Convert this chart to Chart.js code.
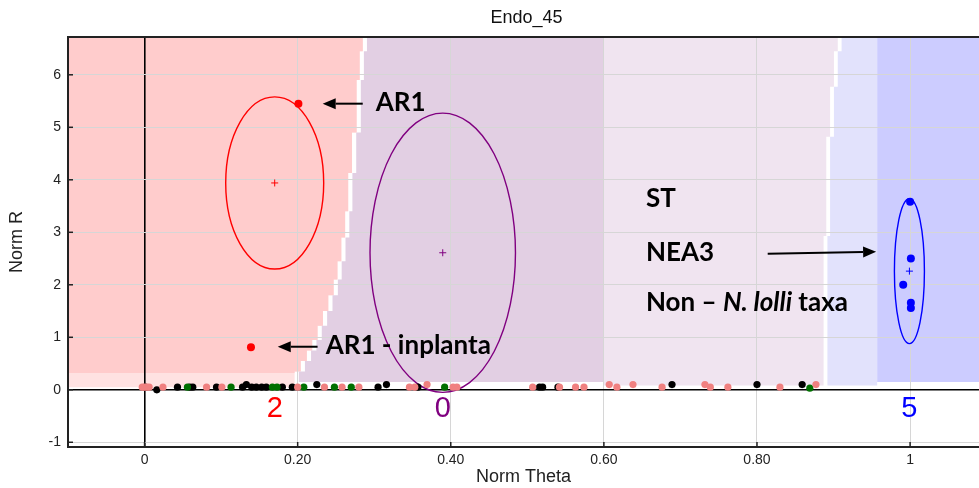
<!DOCTYPE html>
<html>
<head>
<meta charset="utf-8">
<title>Endo_45</title>
<script src="https://cdn.jsdelivr.net/npm/chart.js@4.4.1/dist/chart.umd.min.js"></script>
<style>
  html, body { margin: 0; padding: 0; background: #fff; }
  #wrap { width: 979px; height: 488px; }
</style>
</head>
<body>
<div id="wrap"><canvas id="endoChart" width="979" height="488"></canvas></div>
<script>
// ---- data ----
const xTicks = [0, 0.2, 0.4, 0.6, 0.8, 1];
const xTickLabels = ['0', '0.20', '0.40', '0.60', '0.80', '1'];
const yTicks = [-1, 0, 1, 2, 3, 4, 5, 6];

// samples sitting on the theta axis
const blackTheta = [0.001, 0.016, 0.043, 0.059, 0.063, 0.094, 0.128, 0.133, 0.140, 0.146, 0.153, 0.159, 0.180, 0.193, 0.225, 0.305, 0.316, 0.357, 0.516, 0.520, 0.540, 0.689, 0.800, 0.859];
const blackR     = [0.05, 0.00, 0.05, 0.05, 0.05, 0.05, 0.05, 0.10, 0.05, 0.05, 0.05, 0.05, 0.05, 0.05, 0.10, 0.05, 0.10, 0.05, 0.05, 0.05, 0.05, 0.10, 0.10, 0.10];
const coralTheta = [-0.003, 0.000, 0.003, 0.006, 0.024, 0.081, 0.101, 0.200, 0.235, 0.258, 0.280, 0.346, 0.353, 0.369, 0.403, 0.408, 0.507, 0.542, 0.563, 0.574, 0.607, 0.617, 0.638, 0.676, 0.732, 0.739, 0.762, 0.830, 0.877];
const coralR     = [0.05, 0.05, 0.05, 0.05, 0.05, 0.05, 0.05, 0.05, 0.05, 0.05, 0.05, 0.05, 0.05, 0.10, 0.05, 0.05, 0.05, 0.05, 0.05, 0.05, 0.10, 0.05, 0.10, 0.05, 0.10, 0.05, 0.05, 0.05, 0.10];
const greenTheta = [0.056, 0.113, 0.167, 0.173, 0.208, 0.248, 0.270, 0.392, 0.869];
const greenR     = [0.05, 0.05, 0.05, 0.05, 0.05, 0.05, 0.05, 0.05, 0.03];

// cluster members
const redTheta  = [0.201, 0.139];
const redR      = [5.45, 0.81];
const blueTheta = [1.000, 1.001, 0.991, 1.001, 1.001];
const blueR     = [3.58, 2.50, 2.00, 1.66, 1.56];

// cluster ellipses (centre and half axes)
const clusterIds       = ['2', '0', '5'];
const ellipseTheta     = [0.170, 0.3895, 0.9991];
const ellipseR         = [3.94, 2.61, 2.26];
const ellipseHalfTheta = [0.064, 0.0950, 0.0196];
const ellipseHalfR     = [1.64, 2.66, 1.38];
const clusterLabelR    = -0.36;

// decision regions: [theta, R from here down]
const leftBoundary  = [[0.288, 6.72], [0.284, 6.45], [0.280, 5.90], [0.274, 4.90], [0.269, 4.13], [0.265, 3.40], [0.260, 2.90], [0.255, 2.45], [0.250, 2.10], [0.243, 1.80], [0.236, 1.50], [0.229, 1.22], [0.222, 0.95], [0.215, 0.75], [0.207, 0.55], [0.199, 0.35]];
const rightBoundary = [[0.908, 6.72], [0.903, 6.45], [0.898, 5.77], [0.893, 4.82], [0.8895, 2.93]];
const purpleEnd = 0.600;
const blueStart = 0.957;

// annotations
const noteText  = ['AR1', 'AR1 - inplanta', 'ST', 'NEA3', 'Non – N. lolli taxa'];
const noteTheta = [0.302, 0.2366, 0.655, 0.655, 0.655];
const noteR     = [5.47, 0.84, 3.64, 2.61, 1.66];
const arrowFrom = [[0.285, 5.45], [0.226, 0.82], [0.814, 2.59]];
const arrowTo   = [[0.2327, 5.45], [0.174, 0.82], [0.9556, 2.63]];

const X_MIN = -0.1, X_MAX = 1.09, Y_MIN = -1.09, Y_MAX = 6.72;

// ---- helpers ----
const toPts = (xs, ys) => xs.map((x, i) => ({ x: x, y: ys[i] }));

function stairs(bound, shift, yBottom) {
    // staircase outline from top to bottom
    const pts = [];
    bound.forEach((b, i) => {
        const yTop = b[1];
        const yLow = i < bound.length - 1 ? bound[i + 1][1] : yBottom;
        pts.push([b[0] + shift, yTop]);
        pts.push([b[0] + shift, yLow]);
    });
    return pts;
}

const regionsPlugin = {
    id: 'regions',
    beforeDraw(chart) {
        const { ctx, chartArea } = chart;
        const sx = chart.scales.x, sy = chart.scales.y;
        const P = p => [sx.getPixelForValue(p[0]), sy.getPixelForValue(p[1])];
        const poly = (pts, color) => {
            ctx.beginPath();
            pts.forEach((p, i) => {
                const q = P(p);
                if (i === 0) ctx.moveTo(q[0], q[1]); else ctx.lineTo(q[0], q[1]);
            });
            ctx.closePath();
            ctx.fillStyle = color;
            ctx.fill();
        };
        ctx.save();
        ctx.fillStyle = '#fff';
        ctx.fillRect(chartArea.left, chartArea.top, chartArea.width, chartArea.height);
        ctx.beginPath();
        ctx.rect(chartArea.left, chartArea.top, chartArea.width, chartArea.height);
        ctx.clip();

        // pink (cluster 2)
        const pinkEdge = stairs(leftBoundary, -0.003, 0.05);
        poly([[X_MIN, 0.05]].concat([[X_MIN, Y_MAX]], pinkEdge), '#ffe2e2');
        poly([[X_MIN, 0.32], [X_MIN, Y_MAX]].concat(pinkEdge.filter(p => p[1] >= 0.32), [[0.196, 0.32]]), '#ffcccc');

        // purple (cluster 0)
        const purpleEdge = stairs(leftBoundary, 0.0025, 0.15);
        poly(purpleEdge.concat([[purpleEnd, 0.15], [purpleEnd, Y_MAX]]), '#e2cfe3');

        // lilac
        const lilacEdge = stairs(rightBoundary, -0.0025, 0.08);
        poly([[purpleEnd, Y_MAX]].concat(lilacEdge, [[purpleEnd, 0.08]]), '#f0e4f0');

        // light blue, blue (cluster 5)
        const lbEdge = stairs(rightBoundary, 0.0025, 0.08);
        poly(lbEdge.concat([[blueStart, 0.08], [blueStart, Y_MAX]]), '#e2e2fc');
        poly([[blueStart, Y_MAX], [blueStart, 0.15], [X_MAX, 0.15], [X_MAX, Y_MAX]], '#ccccff');
        ctx.restore();
    },
    beforeDatasetsDraw(chart) {
        const { ctx, chartArea } = chart;
        const sx = chart.scales.x, sy = chart.scales.y;
        const colors = ['#ff0000', '#800080', '#0000ff'];
        ctx.save();
        ctx.beginPath();
        ctx.rect(chartArea.left, chartArea.top, chartArea.width, chartArea.height);
        ctx.clip();
        ellipseTheta.forEach((t, i) => {
            const cx = sx.getPixelForValue(t);
            const cy = sy.getPixelForValue(ellipseR[i]);
            const rx = Math.abs(sx.getPixelForValue(t + ellipseHalfTheta[i]) - cx);
            const ry = Math.abs(sy.getPixelForValue(ellipseR[i] + ellipseHalfR[i]) - cy);
            ctx.beginPath();
            ctx.ellipse(cx, cy, rx, ry, 0, 0, Math.PI * 2);
            ctx.strokeStyle = colors[i];
            ctx.lineWidth = 1.4;
            ctx.stroke();
        });
        ctx.restore();
    },
    afterDraw(chart) {
        const { ctx, chartArea } = chart;
        const sx = chart.scales.x, sy = chart.scales.y;
        ctx.save();

        // top frame line
        ctx.strokeStyle = '#222';
        ctx.lineWidth = 2;
        ctx.beginPath();
        ctx.moveTo(chartArea.left - 1, chartArea.top);
        ctx.lineTo(chartArea.right, chartArea.top);
        ctx.stroke();

        // inner tick marks
        ctx.lineWidth = 1.5;
        xTicks.forEach(v => {
            const x = sx.getPixelForValue(v);
            ctx.beginPath();
            ctx.moveTo(x, chartArea.bottom);
            ctx.lineTo(x, chartArea.bottom - 5);
            ctx.stroke();
        });
        yTicks.forEach(v => {
            const y = sy.getPixelForValue(v);
            ctx.beginPath();
            ctx.moveTo(chartArea.left, y);
            ctx.lineTo(chartArea.left + 5, y);
            ctx.stroke();
        });

        // title
        ctx.fillStyle = '#111';
        ctx.font = '18px "Liberation Sans Narrow", "Liberation Sans", Arial, sans-serif';
        ctx.textAlign = 'center';
        ctx.textBaseline = 'middle';
        ctx.fillText('Endo_45', (chartArea.left + chartArea.right) / 2 + 3, 18);

        // cluster numbers
        const colors = ['#ff0000', '#800080', '#0000ff'];
        ctx.font = '29px "Liberation Sans", Arial, sans-serif';
        clusterIds.forEach((id, i) => {
            ctx.fillStyle = colors[i];
            ctx.fillText(id, sx.getPixelForValue(ellipseTheta[i]), sy.getPixelForValue(clusterLabelR));
        });

        // arrows
        ctx.strokeStyle = '#000';
        ctx.fillStyle = '#000';
        ctx.lineWidth = 2;
        arrowFrom.forEach((f, i) => {
            const x1 = sx.getPixelForValue(f[0]), y1 = sy.getPixelForValue(f[1]);
            const x2 = sx.getPixelForValue(arrowTo[i][0]), y2 = sy.getPixelForValue(arrowTo[i][1]);
            const a = Math.atan2(y2 - y1, x2 - x1);
            const hl = 13, hw = 5.5;
            const bx = x2 - hl * Math.cos(a), by = y2 - hl * Math.sin(a);
            ctx.beginPath();
            ctx.moveTo(x1, y1);
            ctx.lineTo(bx, by);
            ctx.stroke();
            ctx.beginPath();
            ctx.moveTo(x2, y2);
            ctx.lineTo(bx + hw * Math.sin(a), by - hw * Math.cos(a));
            ctx.lineTo(bx - hw * Math.sin(a), by + hw * Math.cos(a));
            ctx.closePath();
            ctx.fill();
        });

        // notes
        ctx.textAlign = 'left';
        ctx.fillStyle = '#000';
        const bold = 'bold 26px Lato, "Open Sans", sans-serif';
        const boldItalic = 'italic bold 26px Lato, "Open Sans", sans-serif';
        noteText.forEach((t, i) => {
            let x = sx.getPixelForValue(noteTheta[i]);
            const y = sy.getPixelForValue(noteR[i]);
            if (t.indexOf('N. lolli') >= 0) {
                const parts = [['Non – ', bold], ['N. lolli', boldItalic], [' taxa', bold]];
                parts.forEach(p => {
                    ctx.font = p[1];
                    ctx.fillText(p[0], x, y);
                    x += ctx.measureText(p[0]).width;
                });
            } else {
                ctx.font = bold;
                ctx.fillText(t, x, y);
            }
        });
        ctx.restore();
    }
};

const gridColor = c => (c.tick && c.tick.value === 0 ? '#000' : '#d6d6d6');
const gridWidth = c => (c.tick && c.tick.value === 0 ? 1.6 : 1);

new Chart(document.getElementById('endoChart'), {
    type: 'scatter',
    data: {
        datasets: [
            { label: 'coral', data: toPts(coralTheta, coralR), backgroundColor: '#f08080', borderWidth: 0, pointRadius: 3.6 },
            { label: 'green', data: toPts(greenTheta, greenR), backgroundColor: '#007000', borderWidth: 0, pointRadius: 3.6 },
            { label: 'black', data: toPts(blackTheta, blackR), backgroundColor: '#000', borderWidth: 0, pointRadius: 3.6 },
            { label: 'red', data: toPts(redTheta, redR), backgroundColor: '#ff0000', borderWidth: 0, pointRadius: 4 },
            { label: 'blue', data: toPts(blueTheta, blueR), backgroundColor: '#0000ff', borderWidth: 0, pointRadius: 4 },
            {
                label: 'centres',
                data: toPts(ellipseTheta, ellipseR),
                pointStyle: 'cross',
                pointRadius: 3.5,
                borderWidth: 1,
                borderColor: ['#ff0000', '#800080', '#0000ff']
            }
        ]
    },
    options: {
        responsive: false,
        animation: false,
        devicePixelRatio: 1,
        layout: { autoPadding: false, padding: { top: 37, right: 0, bottom: 0, left: 0 } },
        plugins: {
            legend: { display: false },
            tooltip: { enabled: false }
        },
        scales: {
            x: {
                type: 'linear',
                min: X_MIN,
                max: X_MAX,
                afterBuildTicks: s => { s.ticks = xTicks.map(v => ({ value: v })); },
                afterFit: s => { s.height = 41; },
                ticks: {
                    padding: 5,
                    color: '#222',
                    font: { family: '"Liberation Sans", Arial, sans-serif', size: 14 },
                    callback: v => xTickLabels[xTicks.indexOf(v)]
                },
                grid: { color: gridColor, lineWidth: gridWidth, drawTicks: false },
                border: { display: true, color: '#222', width: 2 },
                title: {
                    display: true,
                    text: 'Norm Theta',
                    color: '#222',
                    font: { family: '"Liberation Sans", Arial, sans-serif', size: 18 },
                    padding: { top: 0, bottom: 0 }
                }
            },
            y: {
                type: 'linear',
                min: Y_MIN,
                max: Y_MAX,
                afterBuildTicks: s => { s.ticks = yTicks.map(v => ({ value: v })); },
                afterFit: s => { s.width = 68; },
                ticks: {
                    padding: 7,
                    color: '#222',
                    font: { family: '"Liberation Sans", Arial, sans-serif', size: 14 }
                },
                grid: { color: gridColor, lineWidth: gridWidth, drawTicks: false },
                border: { display: true, color: '#222', width: 2 },
                title: {
                    display: true,
                    text: 'Norm R',
                    color: '#222',
                    font: { family: '"Liberation Sans", Arial, sans-serif', size: 18 },
                    padding: { top: 6, bottom: 0 }
                }
            }
        }
    },
    plugins: [regionsPlugin]
});
</script>
</body>
</html>
